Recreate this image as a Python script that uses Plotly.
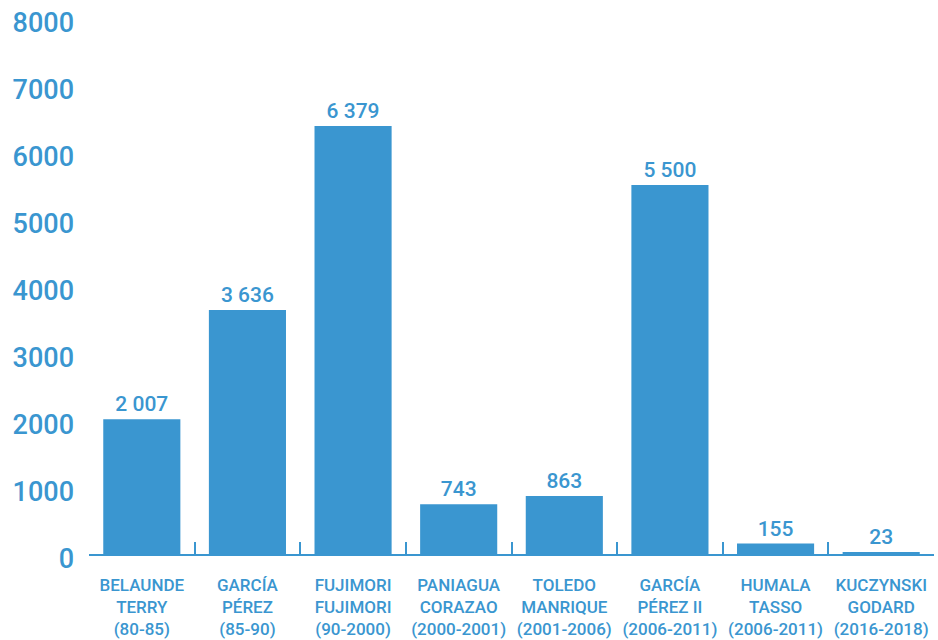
import plotly.graph_objects as go

# Presidential terms and their counts
presidents = [
    "BELAUNDE<br>TERRY<br>(80-85)",
    "GARCÍA<br>PÉREZ<br>(85-90)",
    "FUJIMORI<br>FUJIMORI<br>(90-2000)",
    "PANIAGUA<br>CORAZAO<br>(2000-2001)",
    "TOLEDO<br>MANRIQUE<br>(2001-2006)",
    "GARCÍA<br>PÉREZ II<br>(2006-2011)",
    "HUMALA<br>TASSO<br>(2006-2011)",
    "KUCZYNSKI<br>GODARD<br>(2016-2018)",
]
values = [2007, 3636, 6379, 743, 863, 5500, 155, 23]
y_ticks = [0, 1000, 2000, 3000, 4000, 5000, 6000, 7000, 8000]

BLUE = "#3a96d0"
FONT = "Roboto"

positions = list(range(len(values)))


def fmt(v):
    return f"{v:,}".replace(",", " ")


fig = go.Figure()
fig.add_trace(go.Bar(
    x=positions,
    y=values,
    marker=dict(color=BLUE, line=dict(width=0)),
    text=[fmt(v) for v in values],
    textposition="outside",
    textfont=dict(family=FONT, size=21, color=BLUE, weight=500),
    cliponaxis=False,
    showlegend=False,
))
# invisible trace on the overlay axis so it gets drawn
fig.add_trace(go.Scatter(x=[0], y=[0], xaxis="x2", mode="markers",
                         marker=dict(opacity=0), showlegend=False, hoverinfo="skip"))

fig.update_layout(
    width=938, height=640,
    margin=dict(l=89, r=4, t=17, b=86),
    paper_bgcolor="white", plot_bgcolor="white",
    bargap=0.27,
    xaxis=dict(
        range=[-0.5, len(values) - 0.5],
        tickmode="array", tickvals=positions, ticktext=presidents,
        ticks="", showgrid=False, zeroline=False, automargin=False,
        showline=True, linecolor=BLUE, linewidth=1.5,
        tickfont=dict(family=FONT, size=17, color=BLUE, weight=500),
        ticklabelstandoff=15,
    ),
    xaxis2=dict(
        overlaying="x", matches="x", anchor="y", automargin=False,
        tickmode="array",
        tickvals=[p + 0.5 for p in positions[:-1]],
        ticks="inside", ticklen=12, tickcolor=BLUE, tickwidth=1.5,
        showticklabels=False, showgrid=False, zeroline=False, showline=False,
    ),
    yaxis=dict(
        range=[0, 8005], automargin=False,
        tickmode="array", tickvals=y_ticks,
        showgrid=False, zeroline=False, showline=False, ticks="",
        tickfont=dict(family=FONT, size=27, color=BLUE, weight=500),
        ticklabelstandoff=14,
        ticklabelshift=5,
    ),
)

fig.write_html("out.html")
